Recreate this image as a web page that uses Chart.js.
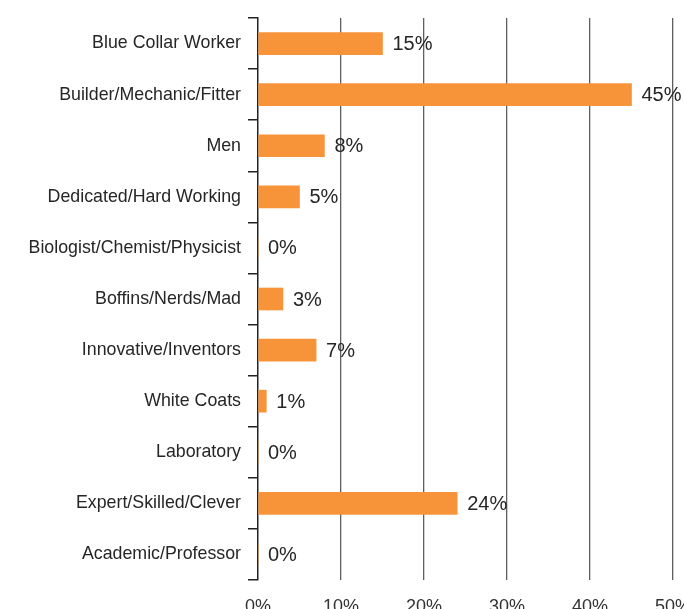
<!DOCTYPE html>
<html>
<head>
<meta charset="utf-8">
<style>
  html, body { margin: 0; padding: 0; overflow: hidden; background: #fff; }
  #wrap { position: absolute; left: 0; top: 0; width: 720px; height: 625px; }
</style>
<script src="https://cdn.jsdelivr.net/npm/chart.js@4/dist/chart.umd.min.js"></script>
</head>
<body>
<div id="wrap"><canvas id="chart" width="720" height="625"></canvas></div>
<script>
// Perceptions of the people who do the work, share of responses
const categories = [
  'Blue Collar Worker',
  'Builder/Mechanic/Fitter',
  'Men',
  'Dedicated/Hard Working',
  'Biologist/Chemist/Physicist',
  'Boffins/Nerds/Mad',
  'Innovative/Inventors',
  'White Coats',
  'Laboratory',
  'Expert/Skilled/Clever',
  'Academic/Professor'
];
const shares = [15, 45, 8, 5, 0, 3, 7, 1, 0, 24, 0];
const tickValues = [0, 10, 20, 30, 40, 50];

const FONT = '"Liberation Sans", Arial, Helvetica, sans-serif';

// Writes the percentage just past the end of each bar
const valueLabels = {
  id: 'valueLabels',
  afterDatasetsDraw(chart) {
    const ctx = chart.ctx;
    const meta = chart.getDatasetMeta(0);
    ctx.save();
    ctx.font = '20px ' + FONT;
    ctx.fillStyle = '#262626';
    ctx.textAlign = 'left';
    ctx.textBaseline = 'middle';
    meta.data.forEach((bar, i) => {
      ctx.fillText(shares[i] + '%', bar.x + 10, bar.y + 1);
    });
    ctx.restore();
  }
};

new Chart(document.getElementById('chart'), {
  type: 'bar',
  data: {
    labels: categories,
    datasets: [{
      data: shares,
      backgroundColor: '#F7943A',
      borderWidth: 0,
      barThickness: 22
    }]
  },
  options: {
    indexAxis: 'y',
    responsive: false,
    animation: false,
    layout: { padding: { top: 18, right: 47, left: 0, bottom: 0 } },
    plugins: {
      legend: { display: false },
      tooltip: { enabled: false }
    },
    scales: {
      x: {
        min: 0,
        max: 50,
        afterBuildTicks(scale) {
          scale.ticks = tickValues.map(v => ({ value: v }));
        },
        afterFit(scale) { scale.height = 625 - 580; },
        border: { display: false },
        grid: {
          drawTicks: false,
          color: ctx => ctx.tick && ctx.tick.value === 0 ? 'rgba(0,0,0,0)' : '#5f5f5f',
          lineWidth: 1.3
        },
        ticks: {
          padding: 16,
          color: '#333',
          font: { family: FONT, size: 18 },
          callback: v => v + '%'
        }
      },
      y: {
        afterFit(scale) { scale.width = 258; },
        border: { display: true, color: '#222', width: 1.5 },
        grid: {
          offset: true,
          drawOnChartArea: false,
          drawTicks: true,
          tickLength: 10,
          color: '#222',
          lineWidth: 1.5
        },
        ticks: {
          padding: 7,
          color: '#262626',
          font: { family: FONT, size: 17.8 }
        }
      }
    }
  },
  plugins: [valueLabels]
});
</script>
</body>
</html>
